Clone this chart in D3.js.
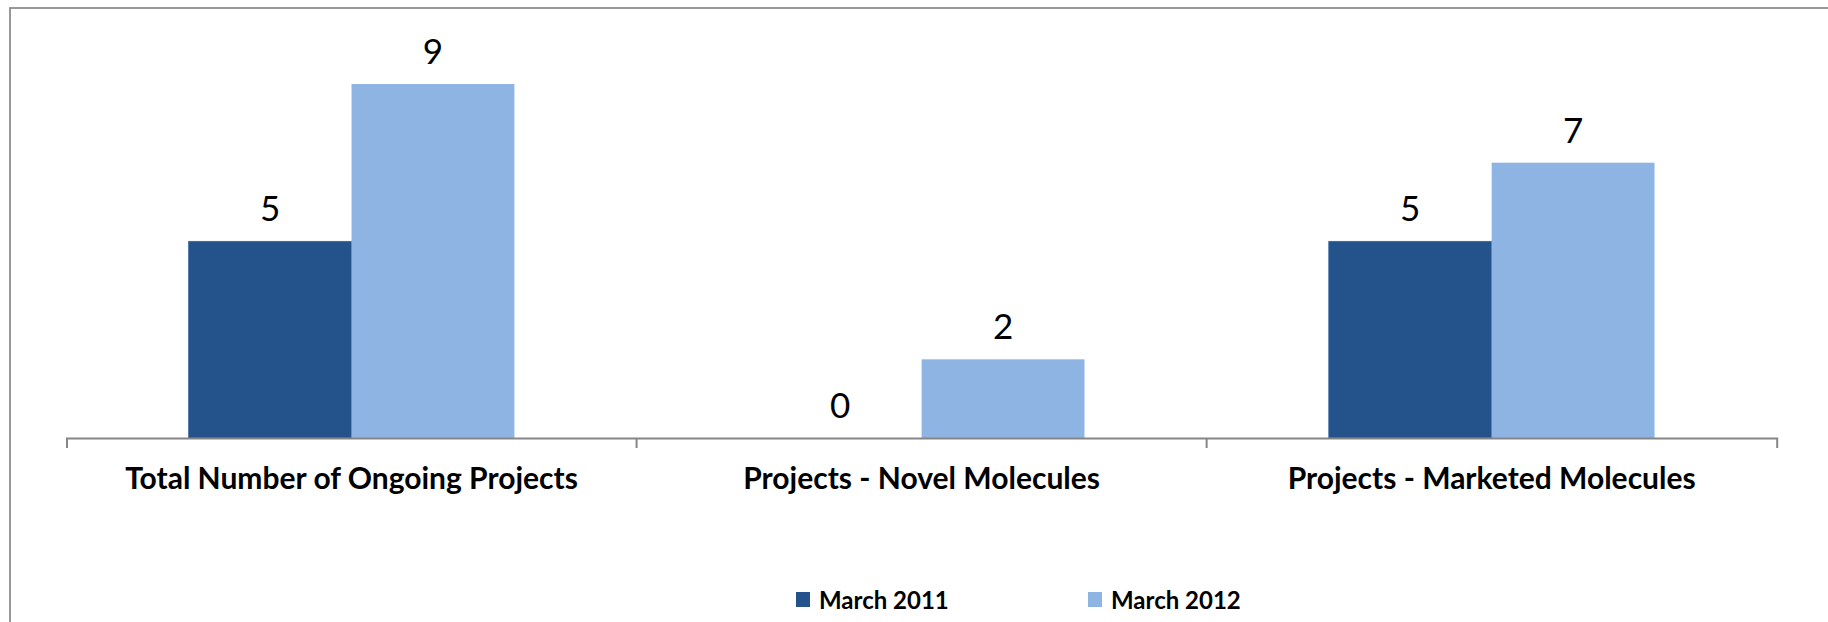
<!DOCTYPE html>
<html>
<head>
<meta charset="utf-8">
<script src="https://cdn.jsdelivr.net/npm/d3@7/dist/d3.min.js"></script>
<style>
  html, body { margin: 0; padding: 0; background: #ffffff; }
  svg { display: block; }
</style>
</head>
<body>
<svg id="chart" width="1828" height="622"></svg>
<script>
// ---- data ----
const categories = ["Total Number of Ongoing Projects", "Projects - Novel Molecules", "Projects - Marketed Molecules"];
const seriesNames = ["March 2011", "March 2012"];
const march2011 = [5, 0, 5];
const march2012 = [9, 2, 7];
const seriesValues = [march2011, march2012];
const seriesColors = ["#23538A", "#8EB4E3"];

// ---- layout ----
const W = 1828, H = 622;
const axisY = 438;
const plotLeft = 66.5, plotRight = 1776.7;
const svg = d3.select("#chart");

// chart frame (extends beyond right/bottom edges like the reference)
svg.append("rect")
  .attr("x", 10).attr("y", 8)
  .attr("width", W + 20).attr("height", H + 20)
  .attr("fill", "#ffffff")
  .attr("stroke", "#8a8a8a")
  .attr("stroke-width", 1.75);

const x = d3.scaleBand().domain(categories).range([plotLeft, plotRight]).paddingInner(0).paddingOuter(0);
const y = d3.scaleLinear().domain([0, 10]).range([axisY, axisY - 393.3]);

// Excel-like gap width 150%
const gapRatio = 1.5;
const barW = x.bandwidth() / (seriesNames.length + gapRatio);
const x1 = d3.scaleBand().domain(seriesNames)
  .range([barW * gapRatio / 2, barW * gapRatio / 2 + barW * seriesNames.length]);

const rows = categories.map((c, i) => ({
  cat: c,
  vals: seriesNames.map((s, j) => ({ s, j, v: seriesValues[j][i] }))
}));

const groups = svg.append("g").selectAll("g")
  .data(rows).join("g")
  .attr("transform", d => `translate(${x(d.cat)},0)`);

groups.selectAll("rect")
  .data(d => d.vals).join("rect")
  .attr("x", d => x1(d.s))
  .attr("width", x1.bandwidth())
  .attr("y", d => y(d.v))
  .attr("height", d => y(0) - y(d.v))
  .attr("fill", d => seriesColors[d.j])
  .attr("stroke", d => d.j === 0 ? "#3566a0" : "none")
  .attr("stroke-width", 0.8);

groups.selectAll("text.val")
  .data(d => d.vals).join("text")
  .attr("class", "val")
  .attr("x", d => x1(d.s) + x1.bandwidth() / 2)
  .attr("y", d => y(d.v) - 20)
  .attr("text-anchor", "middle")
  .attr("font-family", "Lato, 'Open Sans', sans-serif")
  .attr("font-size", 35)
  .attr("fill", "#000")
  .text(d => d.v);

// x axis
const axis = d3.axisBottom(x).tickSizeInner(0).tickSizeOuter(10).tickPadding(45);
const gAxis = svg.append("g").attr("transform", `translate(0,${axisY})`).call(axis);
gAxis.select(".domain").attr("stroke", "#868686").attr("stroke-width", 2);
gAxis.selectAll(".tick line").remove();
gAxis.selectAll(".tick text")
  .attr("font-family", "Lato, 'Open Sans', sans-serif")
  .attr("font-weight", "bold")
  .attr("font-size", 30)
  .attr("fill", "#000")
  .attr("dy", "0.2em");
// inner category boundary ticks
gAxis.selectAll("line.bound")
  .data(categories.slice(1)).join("line")
  .attr("class", "bound")
  .attr("x1", d => x(d)).attr("x2", d => x(d))
  .attr("y1", 0).attr("y2", 10)
  .attr("stroke", "#868686").attr("stroke-width", 2);

// legend
const legendX = [796, 1088];
const legend = svg.append("g").selectAll("g")
  .data(seriesNames).join("g")
  .attr("transform", (d, i) => `translate(${legendX[i]},592)`);
legend.append("rect")
  .attr("width", 14).attr("height", 15)
  .attr("fill", (d, i) => seriesColors[i]);
legend.append("text")
  .attr("x", 23).attr("y", 17)
  .attr("font-family", "Lato, 'Open Sans', sans-serif")
  .attr("font-weight", "bold")
  .attr("font-size", 24)
  .attr("fill", "#000")
  .text(d => d);
</script>
</body>
</html>
